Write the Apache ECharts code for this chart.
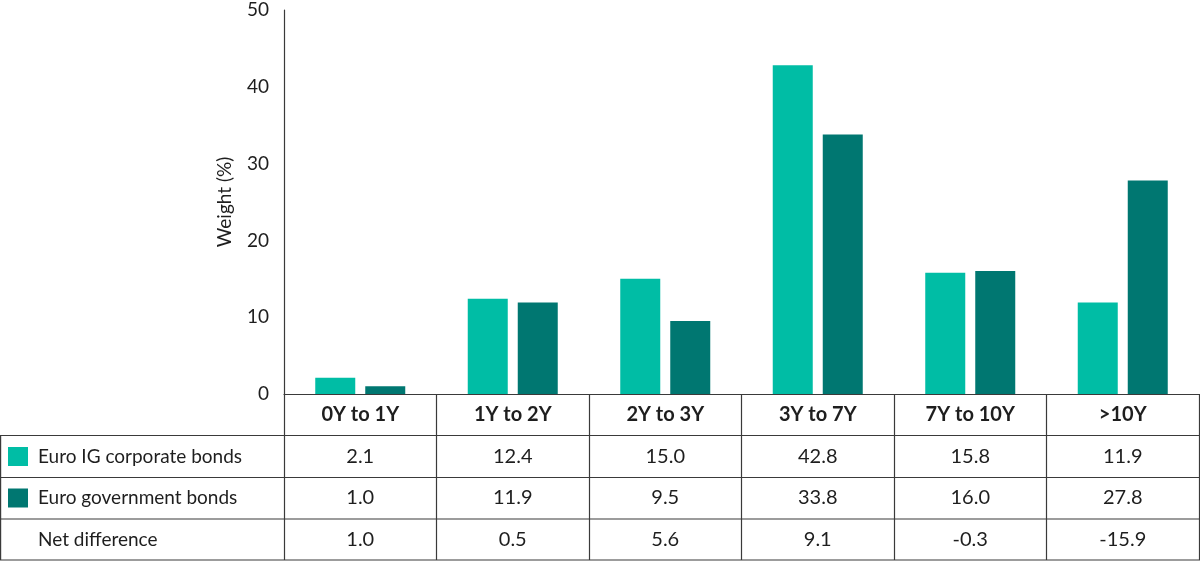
<!DOCTYPE html>
<html>
<head>
<meta charset="utf-8">
<script src="https://cdn.jsdelivr.net/npm/echarts@6/dist/echarts.min.js"></script>
<style>
  html, body { margin: 0; padding: 0; background: #fff; }
  #chart { width: 1200px; height: 566px; }
</style>
</head>
<body>
<div id="chart"></div>
<script>
const categories = ['0Y to 1Y', '1Y to 2Y', '2Y to 3Y', '3Y to 7Y', '7Y to 10Y', '>10Y']
const corporate = [2.1, 12.4, 15.0, 42.8, 15.8, 11.9]
const government = [1.0, 11.9, 9.5, 33.8, 16.0, 27.8]
const netDifference = [1.0, 0.5, 5.6, 9.1, -0.3, -15.9]
const rowNames = ['Euro IG corporate bonds', 'Euro government bonds', 'Net difference']

const lightTeal = '#00BDA5'
const darkTeal = '#007771'
const lineColor = '#3a3a3a'
const textColor = '#1e1e1e'
const font = 'Lato'

const chart = echarts.init(document.getElementById('chart'))

// value row under the plot, drawn as an extra category axis
const rowAxis = (values, offset) => ({
  type: 'category',
  data: categories,
  position: 'bottom',
  offset: offset,
  axisLine: { show: false },
  axisTick: { show: false },
  axisLabel: {
    margin: 0,
    verticalAlign: 'middle',
    color: textColor,
    fontFamily: font,
    fontSize: 20,
    interval: 0,
    formatter: (v, i) => values[i].toFixed(1)
  }
})

const hLine = (x1, y, x2) => ({
  type: 'line',
  shape: { x1: x1, y1: y, x2: x2, y2: y },
  style: { stroke: lineColor, lineWidth: 1.2 }
})

const legendBox = (y, color) => ({
  type: 'rect',
  shape: { x: 8, y: y, width: 20, height: 19 },
  style: { fill: color }
})

const rowLabel = (y, text) => ({
  type: 'text',
  x: 38,
  y: y,
  style: {
    text: text,
    fill: textColor,
    font: '19px ' + font,
    verticalAlign: 'middle'
  }
})

const option = {
  animation: false,
  grid: { left: 284, right: 1, top: 10, bottom: 172 },
  xAxis: [
    {
      type: 'category',
      data: categories,
      axisLine: { lineStyle: { color: lineColor, width: 1.2 } },
      axisTick: { show: true, length: 166, lineStyle: { color: lineColor, width: 1.2 } },
      axisLabel: {
        margin: 21,
        verticalAlign: 'middle',
        color: textColor,
        fontFamily: font,
        fontWeight: 'bold',
        fontSize: 20,
        interval: 0
      }
    },
    rowAxis(corporate, 62.5),
    rowAxis(government, 104),
    rowAxis(netDifference, 146)
  ],
  yAxis: {
    type: 'value',
    min: 0,
    max: 50,
    interval: 10,
    name: 'Weight (%)',
    nameLocation: 'middle',
    nameRotate: 90,
    nameGap: 50,
    nameTextStyle: { color: textColor, fontFamily: font, fontSize: 19 },
    axisLine: { show: true, lineStyle: { color: lineColor, width: 1.2 } },
    axisTick: { show: false },
    splitLine: { show: false },
    axisLabel: { margin: 15, color: textColor, fontFamily: font, fontSize: 19 }
  },
  series: [
    {
      name: rowNames[0],
      type: 'bar',
      data: corporate,
      barWidth: 40,
      barGap: '25%',
      itemStyle: { color: lightTeal }
    },
    {
      name: rowNames[1],
      type: 'bar',
      data: government,
      barWidth: 40,
      barGap: '25%',
      itemStyle: { color: darkTeal }
    }
  ],
  graphic: [
    hLine(0, 435.5, 1200),
    hLine(0, 477.5, 1200),
    hLine(0, 519, 1200),
    hLine(0, 560, 1200),
    {
      type: 'line',
      shape: { x1: 0.6, y1: 435.5, x2: 0.6, y2: 560 },
      style: { stroke: lineColor, lineWidth: 1.2 }
    },
    legendBox(447, lightTeal),
    legendBox(488.5, darkTeal),
    rowLabel(456.5, rowNames[0]),
    rowLabel(498, rowNames[1]),
    rowLabel(539.5, rowNames[2])
  ]
}

chart.setOption(option)
</script>
</body>
</html>
